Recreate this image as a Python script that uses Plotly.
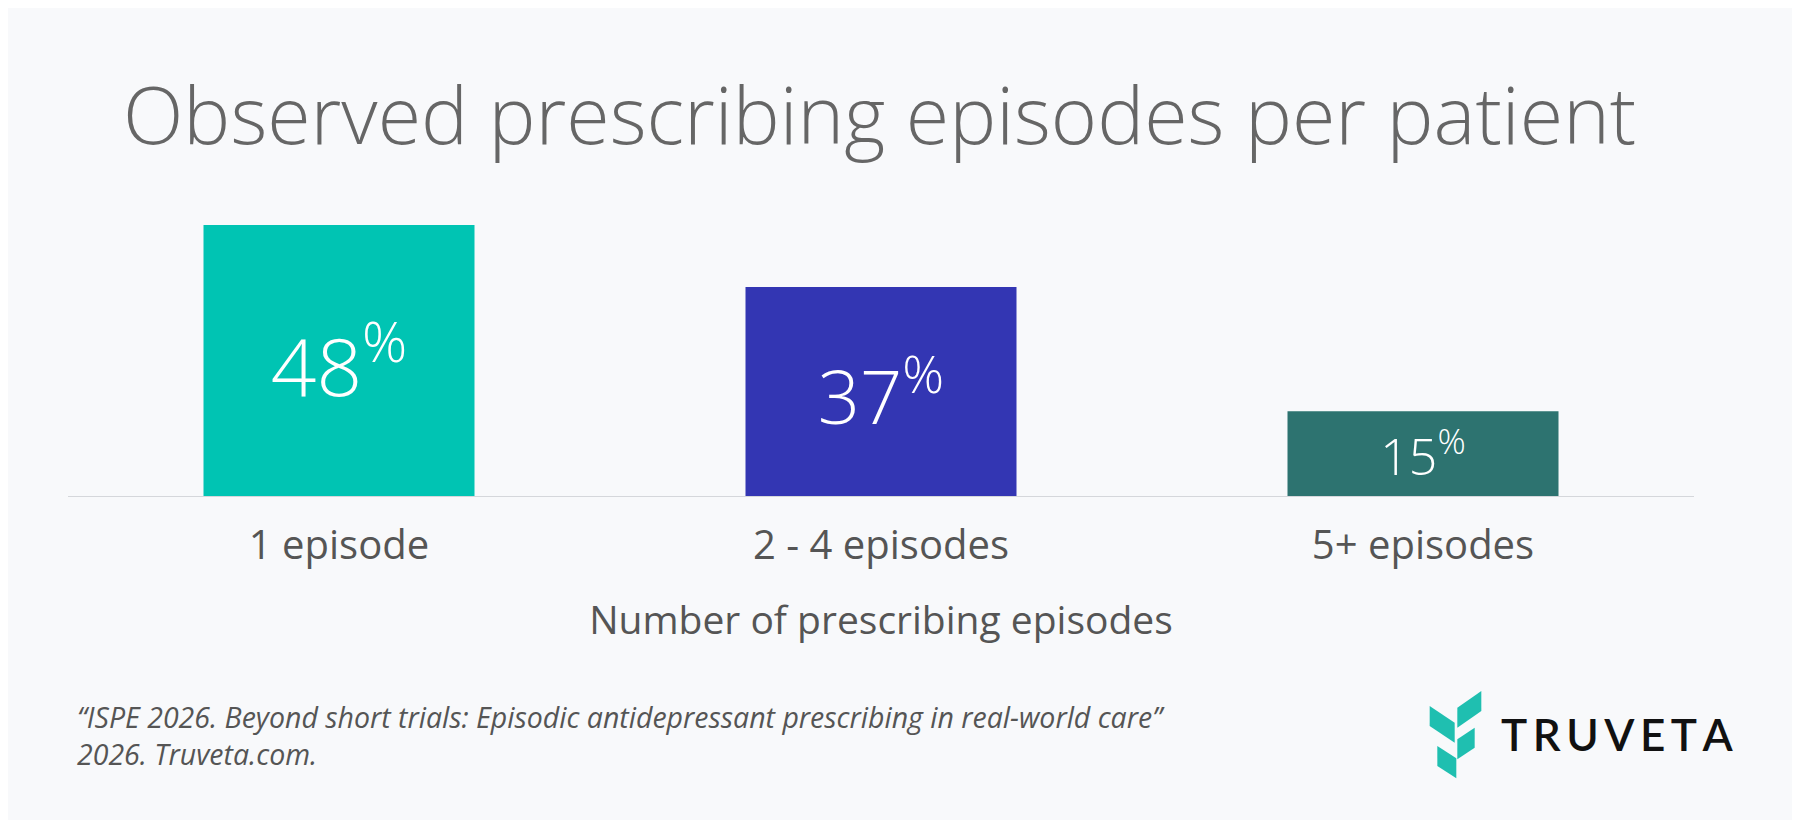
import plotly.graph_objects as go

categories = ["1 episode", "2 - 4 episodes", "5+ episodes"]
values = [48, 37, 15]
colors = ["#00C4B3", "#3336B3", "#2D7370"]
title = "Observed prescribing episodes per patient"
x_title = "Number of prescribing episodes"
footnote = "<i>\u201cISPE 2026. Beyond short trials: Episodic antidepressant prescribing in real-world care\u201d<br>2026. Truveta.com.</i>"
brand = "\u2009".join("TRUVETA")

W, H = 1800, 820
FONT = "Open Sans"
DY = -7

fig = go.Figure(go.Bar(
    x=categories, y=values, marker=dict(color=colors, line=dict(width=0)),
    width=0.5,
    text=[f"{v}<sup>%</sup>" for v in values],
    textposition="inside", insidetextanchor="middle",
    textfont=dict(family=FONT, size=[80, 74, 50], color="white", weight=300),
    hoverinfo="skip",
))

top_px, base_px = 200 + DY, 495 + DY
left_px, right_px = 60, 1686
per_pct = (495 - 224) / 48
ymax = (base_px - top_px) / per_pct

def PX(px):
    return (px - left_px) / (right_px - left_px)

def PY(py):
    return (base_px - (py + DY)) / (base_px - top_px)

def P(zx, zy):
    return PX(1400 + zx / 3), PY(670 + zy / 3)

pieces = [
    [(65, 105), (140, 155), (140, 215), (65, 165)],
    [(88, 225), (145, 262), (145, 322), (88, 285)],
    [(148, 110), (220, 60), (220, 120), (148, 170)],
    [(148, 205), (200, 170), (200, 230), (148, 265)],
]
shapes = []
for pc in pieces:
    pts = [P(*p) for p in pc]
    path = "M " + " L ".join(f"{a:.5f},{b:.5f}" for a, b in pts) + " Z"
    shapes.append(dict(type="path", xref="paper", yref="paper", path=path,
                       fillcolor="#1FBFB0", line=dict(width=0)))

fig.update_layout(
    width=W, height=H,
    margin=dict(l=left_px, r=W - right_px, t=top_px, b=H - base_px),
    paper_bgcolor="#F8F9FB", plot_bgcolor="rgba(0,0,0,0)",
    showlegend=False, bargap=0.5,
    font=dict(family=FONT, color="#555555"),
    xaxis=dict(showline=True, linecolor="#D5D7DB", linewidth=1, ticks="",
               ticklabelstandoff=14,
               tickfont=dict(size=40, color="#555555"),
               title=dict(text=x_title, font=dict(size=39, color="#555555"), standoff=36),
               fixedrange=True),
    yaxis=dict(range=[0, ymax], visible=False, showgrid=False, fixedrange=True),
    shapes=shapes,
    annotations=[
        dict(text=title, xref="paper", yref="paper", x=PX(113),
             y=PY(112), xanchor="left", yanchor="middle",
             showarrow=False, font=dict(size=79, color="#666666", weight=300)),
        dict(text=footnote, xref="paper", yref="paper", x=PX(67),
             y=PY(734), xanchor="left", yanchor="middle",
             align="left", showarrow=False, font=dict(size=28.5, color="#555555")),
        dict(text=brand, xref="paper", yref="paper",
             x=PX(1491), y=PY(733), xanchor="left", yanchor="middle",
             showarrow=False, font=dict(size=44, color="#111111", family="Lato", weight=600)),
    ],
)

fig.write_html("out.html")
